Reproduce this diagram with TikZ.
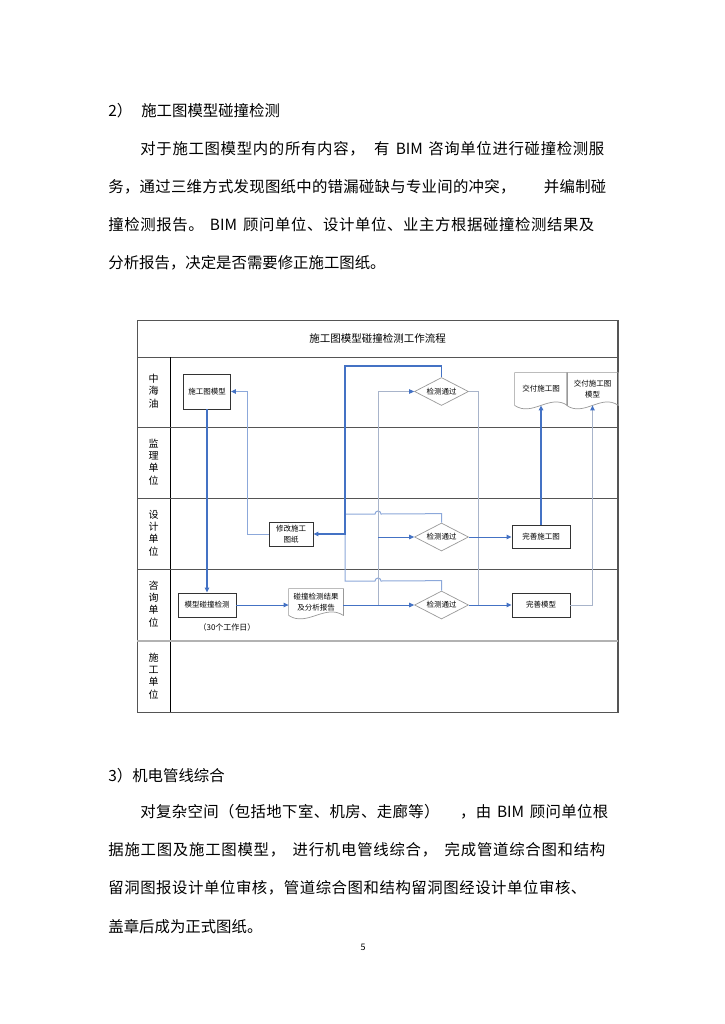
\documentclass[tikz,border=0pt]{standalone}
\usepackage{fontspec}
\setmainfont{Noto Sans CJK SC}
\usetikzlibrary{calc,arrows.meta,shapes.geometric}

\definecolor{flowblue}{RGB}{68,114,196}
\definecolor{softblue}{RGB}{140,168,218}
\definecolor{grayblue}{RGB}{168,180,202}
\definecolor{framegray}{RGB}{85,85,85}

% justified line: spread the characters evenly over a fixed width
\def\jend{\jend}
\newcommand\jline[2]{\makebox[#1][s]{\jfirst#2\jend}}
\def\jfirst#1{#1\jnext}
\def\jnext#1{\ifx\jend#1\else\hspace{0pt plus 1fil}#1\expandafter\jnext\fi}

\begin{document}
\begin{tikzpicture}[x=1pt,y=-1pt,line width=0.8pt,
  body/.style={anchor=west,inner sep=0pt,font=\fontsize{15.4}{18}\selectfont},
  lane/.style={align=center,inner sep=0pt,font=\fontsize{10}{12.2}\selectfont},
  stepbox/.style={draw=black!80,line width=0.9pt,fill=white,inner sep=1pt,align=center,font=\fontsize{7.5}{11}\selectfont},
  check/.style={diamond,draw=black!40,line width=0.7pt,fill=white,inner sep=0pt,minimum width=54,minimum height=28},
  checktxt/.style={font=\fontsize{7.5}{9}\selectfont,inner sep=0pt},
  docnode/.style={inner sep=0pt,align=center,font=\fontsize{7.5}{11.5}\selectfont},
  doc/.style={draw=black!40,line width=0.7pt},
  tip/.style={-{Triangle[length=5pt,width=4.5pt,color=flowblue]}},
  mainflow/.style={draw=flowblue,line width=2pt},
  flow/.style={draw=flowblue,line width=1pt},
  backflow/.style={draw=flowblue,line width=1.4pt},
  softflow/.style={draw=softblue,line width=1pt},
  grayflow/.style={draw=grayblue,line width=1pt}]
  \useasboundingbox[fill=white] (0,0) rectangle (724,1024);

  % text above
  \node[body] (h2) at (108,111) {2）\hspace{9pt}施工图模型碰撞检测};
  \node[body] (p1) at (140,149) {\jline{464pt}{对于施工图模型内的所有内容，{\hspace{8pt}}有{\hspace{5pt}}{BIM}{\hspace{4pt}}咨询单位进行碰撞检测服}};
  \node[body] (p2) at (108,187) {\jline{498pt}{务，通过三维方式发现图纸中的错漏碰缺与专业间的冲突，{\hspace{28pt}}并编制碰}};
  \node[body] (p3) at (108,225) {\jline{486pt}{撞检测报告。{\hspace{5pt}}{BIM}{\hspace{5pt}}顾问单位、设计单位、业主方根据碰撞检测结果及}};
  \node[body] (p4) at (108,263) {分析报告，决定是否需要修正施工图纸。};

  % frame and lanes
  \draw[framegray] (137,320) rectangle (618,712);
  \draw[framegray,line width=1.5pt] (618,320) -- (618,712);
  \draw[framegray] (137,357) -- (618,357);
  \draw[black] (170,357) -- (170,712);
  \foreach \y in {427,498,569}
    \draw[framegray] (137,\y) -- (618,\y);
  \draw[black!30,line width=1.4pt] (137,641) -- (618,641);
  \node[font=\fontsize{10.5}{12}\selectfont] (title) at (377.5,338) {施工图模型碰撞检测工作流程};
  \node[lane] (owner) at (153.5,391) {中\\海\\油};
  \node[lane] (super) at (153.5,462) {监\\理\\单\\位};
  \node[lane] (design) at (153.5,533) {设\\计\\单\\位};
  \node[lane] (consult) at (153.5,604) {咨\\询\\单\\位};
  \node[lane] (build) at (153.5,676) {施\\工\\单\\位};

  % steps
  \node[stepbox,minimum width=47,minimum height=35] (model) at (207,391.5) {施工图模型};
  \node[stepbox,minimum width=58,minimum height=24] (mcheck) at (207,605) {模型碰撞检测};
  \node[font=\fontsize{8}{10}\selectfont] (days) at (227,627) {（30个工作日）};
  \node[docnode,minimum width=54,minimum height=26] (rep) at (316,602) {碰撞检测结果\\及分析报告};
  \node[stepbox,minimum width=44,minimum height=24] (revise) at (291,534) {修改施工\\图纸};
  \node[check,label={[checktxt]center:检测通过}] (dia1) at (441.5,391.5) {};
  \node[check,label={[checktxt]center:检测通过}] (dia2) at (441.5,537) {};
  \node[check,label={[checktxt]center:检测通过}] (dia3) at (441.5,605) {};
  \node[stepbox,minimum width=58,minimum height=23] (perfdraw) at (541,537) {完善施工图};
  \node[stepbox,minimum width=58,minimum height=24] (perfmodel) at (541,605) {完善模型};
  \node[docnode,minimum width=52,minimum height=32] (deliv1) at (541,389) {交付施工图};
  \node[docnode,minimum width=51,minimum height=32] (deliv2) at (592.5,389) {交付施工图\\模型};
  \foreach \d in {rep,deliv1,deliv2}
    \draw[doc] (\d.south west) -- (\d.north west) -- (\d.north east) -- (\d.south east)
      .. controls ($(\d.south east)!1/3!(\d.south west)+(0,-12)$) and ($(\d.south east)!2/3!(\d.south west)+(0,12)$) .. (\d.south west);

  % connectors
  \coordinate (split) at (378,605);
  \coordinate (back) at (345,534);
  \coordinate (merge) at (478,605);
  \draw[softflow] (dia2.north) -- ++(0,-9) -- (381,514) arc(0:-180:3) -- (345,514) -- (back);
  \draw[softflow] (dia3.north) -- ++(0,-10) -- (381,581) arc(0:-180:3) -- (345,581) -- (back);
  \draw[grayflow,tip] (split) |- (dia1.west);
  \draw[flow,tip] (split |- dia2.west) -- (dia2.west);
  \draw[mainflow,tip] (model.south) -- (model.south |- mcheck.north);
  \draw[flow,tip] (mcheck.east) -- (mcheck.east -| rep.west);
  \draw[flow,tip] (dia3.west -| rep.east) -- (dia3.west);
  \draw[backflow,tip] (dia1.north) -- ++(0,-11) -| (back) -- (revise.east);
  \draw[softflow,tip] (revise.west) -- ++(-21,0) |- (model.east);
  \draw[grayflow] (dia1.east) -| (merge);
  \draw[flow,tip] (dia2.east) -- (perfdraw.west);
  \draw[flow,tip] (dia3.east) -- (perfmodel.west);
  \draw[backflow,tip] (perfdraw.north) -- (deliv1.south);
  \draw[grayflow,tip] (perfmodel.east) -| (deliv2.south);

  % text below
  \node[body] (h3) at (108,776) {3）机电管线综合};
  \node[body] (q1) at (140,812) {\jline{468pt}{对复杂空间（包括地下室、机房、走廊等）{\hspace{20pt}}，由{\hspace{5pt}}{BIM}{\hspace{5pt}}顾问单位根}};
  \node[body] (q2) at (108,850) {\jline{497pt}{据施工图及施工图模型，{\hspace{6pt}}进行机电管线综合，{\hspace{6pt}}完成管道综合图和结构}};
  \node[body] (q3) at (108,888) {\jline{478pt}{留洞图报设计单位审核，管道综合图和结构留洞图经设计单位审核、}};
  \node[body] (q4) at (108,927) {盖章后成为正式图纸。};
  \node[font=\fontsize{9}{10}\selectfont] (page) at (363,947) {5};
\end{tikzpicture}
\end{document}
